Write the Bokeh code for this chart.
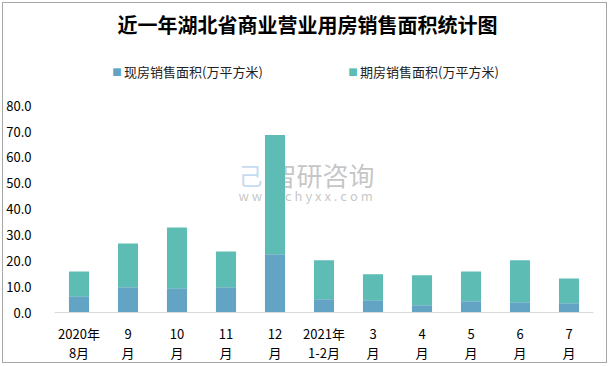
from bokeh.plotting import figure
from bokeh.models import FactorRange, Range1d, Label, NumeralTickFormatter, ColumnDataSource
from bokeh.embed import file_html
from bokeh.resources import INLINE

categories = ["2020年\n8月", "9\n月", "10\n月", "11\n月", "12\n月", "2021年\n1-2月",
              "3\n月", "4\n月", "5\n月", "6\n月", "7\n月"]
xianfang = [6.3, 9.8, 9.4, 9.8, 22.5, 5.1, 4.7, 2.8, 4.4, 4.0, 3.6]
qifang = [9.6, 16.9, 23.5, 13.8, 46.2, 15.1, 10.1, 11.6, 11.5, 16.2, 9.6]
y_ticks = [0, 10, 20, 30, 40, 50, 60, 70, 80]
series_names = ["现房销售面积(万平方米)", "期房销售面积(万平方米)"]
colors = ["#63a3c3", "#5dbdb5"]
title_text = "近一年湖北省商业营业用房销售面积统计图"

CJK = "Noto Sans CJK SC"

source = ColumnDataSource(dict(cat=categories, xf=xianfang, qf=qifang))

# frame extends up to the title area (invisible: no grid, no outline), ticks stop at 80
p = figure(width=605, height=361, output_backend="svg", toolbar_location=None,
           x_range=FactorRange(*categories, range_padding=0), y_range=Range1d(0, 118.8),
           min_border_left=50, min_border_right=15, min_border_top=2, min_border_bottom=51)
p.styles = {"border": "1px solid #a6a6a6", "margin-left": "2px", "margin-top": "2px"}
p.outline_line_color = None
p.xgrid.visible = False
p.ygrid.visible = False
p.background_fill_color = "white"
p.border_fill_color = "white"

p.vbar_stack(["xf", "qf"], x="cat", width=0.41, color=colors, source=source, line_color=None)

p.yaxis.ticker = y_ticks
p.yaxis.formatter = NumeralTickFormatter(format="0.0")
p.yaxis.axis_line_color = None
p.yaxis.major_tick_line_color = None
p.yaxis.minor_tick_line_color = None
p.yaxis.major_label_text_font = CJK
p.yaxis.major_label_text_font_size = "13px"
p.yaxis.major_label_text_color = "#000000"
p.yaxis.major_label_standoff = 17

p.xaxis.axis_line_color = "#d9d9d9"
p.xaxis.axis_line_width = 1
p.xaxis.major_tick_line_color = None
p.xaxis.minor_tick_line_color = None
p.xaxis.major_label_text_font = CJK
p.xaxis.major_label_text_font_size = "13px"
p.xaxis.major_label_text_color = "#000000"
p.xaxis.major_label_text_line_height = 1.0
p.xaxis.major_label_standoff = 5

# title
p.add_layout(Label(x=253, y=288, x_units="screen", y_units="screen", text=title_text,
                   text_font=CJK, text_font_size="20px", text_font_style="bold",
                   text_color="#000000", text_align="center", text_baseline="middle"))
# legend
leg_x = [62.5, 298.5]
for i in range(2):
    p.add_layout(Label(x=leg_x[i], y=241, x_units="screen", y_units="screen", text="■",
                       text_font="DejaVu Sans", text_font_size="10px", text_color=colors[i],
                       text_align="center", text_baseline="middle"))
    p.add_layout(Label(x=leg_x[i] + 7, y=241, x_units="screen", y_units="screen", text=series_names[i],
                       text_font=CJK, text_font_size="13px", text_color="#222222",
                       text_align="left", text_baseline="middle"))
# watermark (behind bars)
p.add_layout(Label(x=216, y=138, x_units="screen", y_units="screen", text="智研咨询",
                   text_font=CJK, text_font_size="26px", text_color="#a0a0a0", text_alpha=0.6,
                   text_align="left", text_baseline="middle", level="underlay"))
p.add_layout(Label(x=184, y=117, x_units="screen", y_units="screen", text="w w w . c h y x x . c o m",
                   text_font=CJK, text_font_size="13px", text_color="#a0a0a0", text_alpha=0.6,
                   text_align="left", text_baseline="middle", level="underlay"))
p.add_layout(Label(x=184, y=138, x_units="screen", y_units="screen", text="己",
                   text_font=CJK, text_font_size="24px", text_color="#9cc3e6", text_alpha=0.6,
                   text_align="left", text_baseline="middle", level="underlay"))

open("out.html", "w").write(file_html(p, INLINE))
